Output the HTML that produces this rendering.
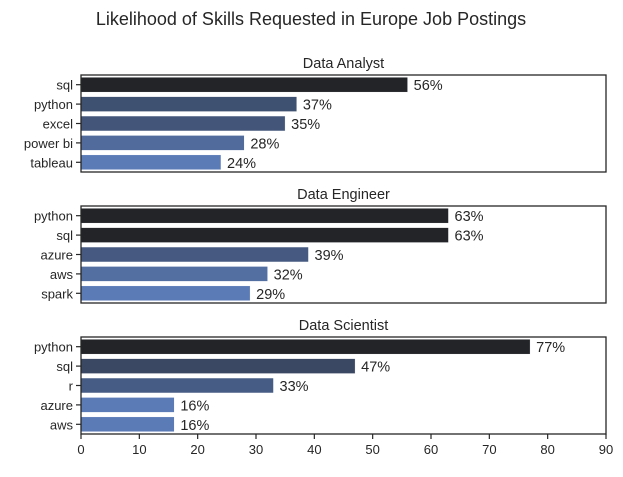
<!DOCTYPE html>
<html><head><meta charset="utf-8"><style>
body{margin:0;background:#fff;font-family:"Liberation Sans","DejaVu Sans",sans-serif}
</style></head><body>
<svg id="c" width="623" height="472" xmlns="http://www.w3.org/2000/svg"></svg>
<script>
const titles=["Data Analyst","Data Engineer","Data Scientist"];
const skills1=["sql","python","excel","power bi","tableau"];
const values1=[56,37,35,28,24];
const skills2=["python","sql","azure","aws","spark"];
const values2=[63,63,39,32,29];
const skills3=["python","sql","r","azure","aws"];
const values3=[77,47,33,16,16];
const xticks=[0,10,20,30,40,50,60,70,80,90];
const skillSets=[skills1,skills2,skills3];
const valueSets=[values1,values2,values3];
const NS="http://www.w3.org/2000/svg";
const svg=document.getElementById('c');
const X0=81,X1=606,XMAX=90;
const xs=v=>X0+(X1-X0)*v/XMAX;
const tops=[75,206,337],H=97;
function mk(t,a,p){const e=document.createElementNS(NS,t);for(const k in a)e.setAttribute(k,a[k]);(p||svg).appendChild(e);return e;}
const light=[91,123,183],dark=[34,36,40];
function col(v,mn,mx){const t=mx===mn?1:(v-mn)/(mx-mn);const c=light.map((l,i)=>Math.round(l+(dark[i]-l)*Math.pow(t,0.8)));return `rgb(${c})`;}
const st=mk('text',{x:311,y:25,'text-anchor':'middle','font-size':18,fill:'#262626'});
st.textContent="Likelihood of Skills Requested in Europe Job Postings";


for(let p=0;p<3;p++){
  const top=tops[p],sk=skillSets[p],vals=valueSets[p];
  const mn=Math.min(...vals),mx=Math.max(...vals);
  const g=mk('g',{});
  
  
  const tt=mk('text',{x:(X0+X1)/2,y:top-7,'text-anchor':'middle','font-size':14.5,fill:'#262626'},g);
  tt.textContent=titles[p];
  
  
  const step=H/5;
  sk.forEach((s,i)=>{
    const cy=top+step*(i+0.5);
    const r=mk('rect',{x:X0,y:cy-7.5,width:xs(vals[i])-X0,height:15,fill:col(vals[i],mn,mx),stroke:'#fff','stroke-width':0.5},g);
    
    
    mk('line',{x1:X0-5,x2:X0,y1:cy,y2:cy,stroke:'#262626','stroke-width':1.2},g);
    const l=mk('text',{x:X0-8,y:cy+5,'text-anchor':'end','font-size':13,fill:'#262626'},g);
    l.textContent=s;
    
    
    const v=mk('text',{x:xs(vals[i])+6,y:cy+5.5,'font-size':14.5,fill:'#262626'},g);
    v.textContent=vals[i]+'%';
    
    
  });
  mk('rect',{x:X0,y:top,width:X1-X0,height:H,fill:'none',stroke:'#262626','stroke-width':1.3},g);
}
const bot=tops[2]+H;
xticks.forEach(t=>{
  mk('line',{x1:xs(t),x2:xs(t),y1:bot,y2:bot+5,stroke:'#262626','stroke-width':1.2});
  const l=mk('text',{x:xs(t),y:bot+20,'text-anchor':'middle','font-size':13,fill:'#262626'});
  l.textContent=t;
  
  
});
</script>
</body></html>
